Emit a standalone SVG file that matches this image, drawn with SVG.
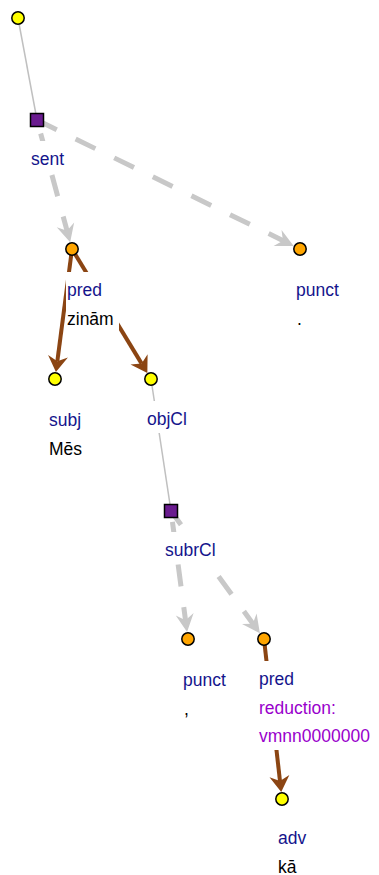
<svg xmlns="http://www.w3.org/2000/svg" width="379" height="875" viewBox="0 0 379 875">
<style>
.lbl{font-family:"Liberation Sans",Arial,sans-serif;font-size:17.5px;fill:#14148c}
.word{font-family:"Liberation Sans",Arial,sans-serif;font-size:17.5px;fill:#000}
.red{font-family:"Liberation Sans",Arial,sans-serif;font-size:17.5px;fill:#9900cc}
.bg{fill:#fff}
.yel{fill:#ffff00;stroke:#000;stroke-width:1.5}
.org{fill:#ffa500;stroke:#000;stroke-width:1.5}
.sq{fill:#6a1b8f;stroke:#000;stroke-width:1.5}
.thin{stroke:#c0c0c0;stroke-width:1.5;fill:none}
.dash{stroke:#c8c8c8;stroke-width:5;fill:none;stroke-dasharray:22 21;marker-end:url(#ga)}
.brown{stroke:#8b4513;stroke-width:4;fill:none;marker-end:url(#ba)}
</style>
<defs>
<marker id="ga" markerUnits="userSpaceOnUse" orient="auto" refX="0" refY="0" markerWidth="30" markerHeight="30" viewBox="-15 -15 30 30" overflow="visible">
<path d="M10,0 L-8,-9 L-2,0 L-8,9 Z" fill="#c8c8c8"/>
</marker>
<marker id="ba" markerUnits="userSpaceOnUse" orient="auto" refX="0" refY="0" markerWidth="30" markerHeight="30" viewBox="-15 -15 30 30" overflow="visible">
<path d="M11,0 L-5,-10 L0,0 L-5,10 Z" fill="#8b4513"/>
</marker>
</defs>
<rect width="379" height="875" fill="#fff"/>
<g id="connectors">
<line class="thin" x1="18" y1="18" x2="37" y2="120"/>
<line class="thin" x1="151" y1="379" x2="171" y2="511"/>
<path class="dash" d="M37,120 L67.55,232.59" style="stroke-dashoffset:29"/>
<path class="dash" d="M37,120 L284.74,241.51" style="stroke-dashoffset:0"/>
<path class="dash" d="M171,511 L185.76,622.13" style="stroke-dashoffset:32"/>
<path class="dash" d="M171,511 L254.01,625.25" style="stroke-dashoffset:5"/>
<path class="brown" d="M72,249 L57.34,361.15"/>
<path class="brown" d="M72,249 L141.65,363.62"/>
<path class="brown" d="M264,639 L279.99,781.11"/>
</g>
<g id="root"><circle class="yel" cx="18" cy="18" r="6.2"/></g>
<g id="sent">
<rect class="bg" x="30" y="141" width="39" height="32"/>
<text class="lbl" x="31" y="165">sent</text>
<rect class="sq" x="30.5" y="113.5" width="13" height="13"/>
</g>
<g id="pred1">
<rect class="bg" x="66" y="272" width="53" height="60.5"/>
<text class="lbl" x="67" y="296">pred</text>
<text class="word" x="67" y="324.5">zinām</text>
<circle class="org" cx="72" cy="249" r="6.2"/>
</g>
<g id="punct1">
<rect class="bg" x="295" y="272" width="49" height="60.5"/>
<text class="lbl" x="296" y="296">punct</text>
<text class="word" x="297" y="324.5">.</text>
<circle class="org" cx="300" cy="249" r="6.2"/>
</g>
<g id="subj">
<rect class="bg" x="48" y="402" width="39" height="60.5"/>
<text class="lbl" x="49" y="426">subj</text>
<text class="word" x="49" y="454.5">Mēs</text>
<circle class="yel" cx="55" cy="379" r="6.2"/>
</g>
<g id="objCl">
<rect class="bg" x="146" y="401" width="46" height="32"/>
<text class="lbl" x="147" y="425">objCl</text>
<circle class="yel" cx="151" cy="379" r="6.2"/>
</g>
<g id="subrCl">
<rect class="bg" x="164" y="532" width="57" height="32"/>
<text class="lbl" x="165" y="556">subrCl</text>
<rect class="sq" x="164.5" y="504.5" width="13" height="13"/>
</g>
<g id="punct2">
<rect class="bg" x="182" y="662" width="49" height="60.5"/>
<text class="lbl" x="183" y="686">punct</text>
<text class="word" x="184" y="714.5">,</text>
<circle class="org" cx="188" cy="639" r="6.2"/>
</g>
<g id="pred2">
<rect class="bg" x="258" y="661" width="117" height="89"/>
<text class="lbl" x="259" y="685">pred</text>
<text class="red" x="259" y="713.5">reduction:</text>
<text class="red" x="259" y="742">vmnn0000000</text>
<circle class="org" cx="264" cy="639" r="6.2"/>
</g>
<g id="adv">
<rect class="bg" x="277" y="820" width="36" height="55"/>
<text class="lbl" x="278" y="844">adv</text>
<text class="word" x="278" y="872.5">kā</text>
<circle class="yel" cx="282" cy="799" r="6.2"/>
</g>
</svg>
